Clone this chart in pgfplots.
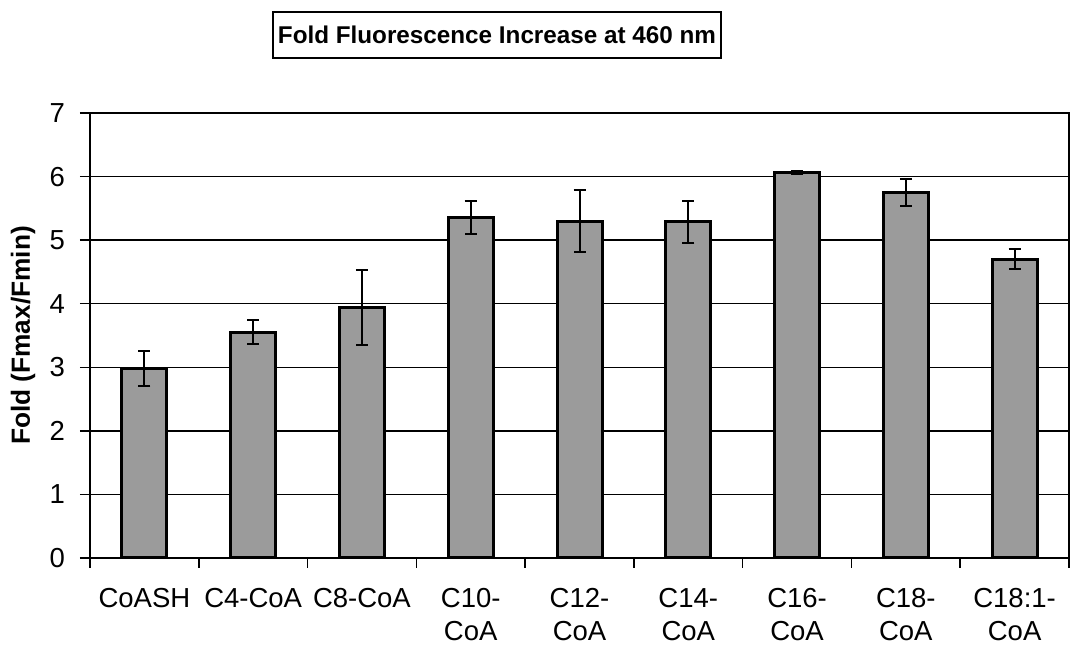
\documentclass[border=0pt]{standalone}
\usepackage{fontspec}
\setmainfont{Liberation Sans}
\usepackage{pgfplots}
\usepackage{pgfplotstable}
\pgfplotsset{compat=1.18}
\usetikzlibrary{calc}
\definecolor{barfill}{RGB}{155,155,155}

% fold increase, symmetric error
\pgfplotstableread{
x y e
1 2.98 0.27
2 3.55 0.19
3 3.94 0.59
4 5.35 0.26
5 5.30 0.49
6 5.29 0.33
7 6.06 0.02
8 5.75 0.21
9 4.70 0.16
}\folddata

\begin{document}
\begin{tikzpicture}
\begin{axis}[
    name=ax,
    scale only axis,
    width=391.6pt, height=178pt,
    xmin=0.5, xmax=9.5,
    ymin=0, ymax=7,
    ytick={0,1,...,7},
    xtick={1,...,9},
    xticklabels={CoASH, C4-CoA, C8-CoA, {C10-\\CoA}, {C12-\\CoA}, {C14-\\CoA}, {C16-\\CoA}, {C18-\\CoA}, {C18:1-\\CoA}},
    minor xtick={0.5,1.5,...,9.5},
    xtick pos=bottom, ytick pos=left,
    tick align=outside,
    major tick length=4pt, minor tick length=4pt,
    major x tick style={draw=none},
    minor x tick style={black, line width=0.6pt},
    major y tick style={black, line width=0.6pt},
    ymajorgrids,
    major grid style={black, line width=0.6pt},
    axis line style={black, line width=0.6pt},
    /pgf/number format/assume math mode=true,
    tick label style={font=\fontsize{11}{13.2}\selectfont},
    xticklabel style={align=center, yshift=-4.4pt},
    yticklabel style={xshift=-2.5pt},
    clip=false,
]
\addplot[ybar, bar width=18pt, fill=barfill, draw=black, line width=1.2pt,
    error bars/.cd, y dir=both, y explicit,
    error bar style={line width=0.8pt, black},
    error mark options={rotate=90, mark size=2.4pt, line width=0.8pt, black}]
    table[x=x, y=y, y error=e] {\folddata};
\node[draw=black, line width=0.6pt, fill=white, inner xsep=2pt, minimum height=18.4pt,
    font=\fontsize{9.7}{11}\selectfont\bfseries, anchor=center]
    at ([yshift=31.2pt]axis description cs:0.4157,1) {Fold Fluorescence Increase at 460 nm};
\node[rotate=90, anchor=center, font=\fontsize{10.5}{12}\selectfont\bfseries]
    at ([xshift=-26.8pt]axis description cs:0,0.5) {Fold (Fmax/Fmin)};
\end{axis}
\path ($(ax.south west)+(-36pt,-35.2pt)$) rectangle ($(ax.north east)+(2pt,45.2pt)$);
\end{tikzpicture}
\end{document}
